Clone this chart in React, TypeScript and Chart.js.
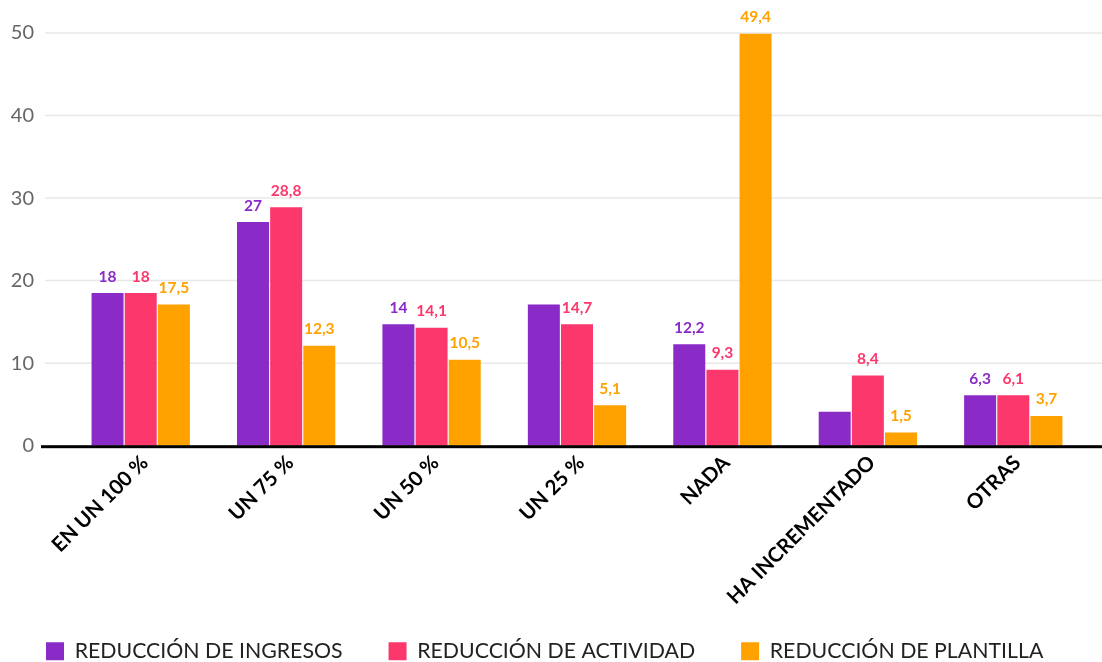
import React, { useEffect, useRef } from "react";
import { Chart, registerables } from "chart.js";

Chart.register(...registerables);

const categories = ["EN UN 100 %", "UN 75 %", "UN 50 %", "UN 25 %", "NADA", "HA INCREMENTADO", "OTRAS"];
const seriesNames = ["REDUCCIÓN DE INGRESOS", "REDUCCIÓN DE ACTIVIDAD", "REDUCCIÓN DE PLANTILLA"];
const ingresos = [18.5, 27.1, 14.7, 17.1, 12.3, 4.1, 6.1];
const actividad = [18.5, 28.9, 14.3, 14.7, 9.2, 8.5, 6.1];
const plantilla = [17.1, 12.1, 10.4, 4.9, 49.9, 1.6, 3.6];
const ingresosLabels = ["18", "27", "14", "", "12,2", "", "6,3"];
const actividadLabels = ["18", "28,8", "14,1", "14,7", "9,3", "8,4", "6,1"];
const plantillaLabels = ["17,5", "12,3", "10,5", "5,1", "49,4", "1,5", "3,7"];
const yTicks = [0, 10, 20, 30, 40, 50];
const colors = ["#8A2BC7", "#FB376B", "#FFA200"];

const valueLabels = [ingresosLabels, actividadLabels, plantillaLabels];

const customPlugin = {
  id: "customDecor",
  afterLayout(chart: any) {
    // let the rotated category labels extend below the axis box (not clipped)
    const x = chart.scales.x;
    if (x) x.bottom = chart.height;
  },
  beforeDatasetsDraw(chart: any) {
    const { ctx, chartArea, scales } = chart;
    const y = scales.y;
    ctx.save();
    ctx.strokeStyle = "#e8e8e8";
    ctx.lineWidth = 1.5;
    yTicks.forEach((v) => {
      if (v === 0) return;
      const py = y.getPixelForValue(v);
      ctx.beginPath();
      ctx.moveTo(chartArea.left - 23, py);
      ctx.lineTo(chart.width, py);
      ctx.stroke();
    });
    ctx.restore();
  },
  afterDatasetsDraw(chart: any) {
    const { ctx, chartArea, scales } = chart;
    const y = scales.y;
    ctx.save();
    const y0 = y.getPixelForValue(0);
    ctx.fillStyle = "#000";
    ctx.fillRect(chartArea.left - 27, y0 - 0.5, chart.width - (chartArea.left - 27), 3);
    ctx.font = "bold 15.5px Lato";
    ctx.textAlign = "center";
    ctx.textBaseline = "alphabetic";
    chart.data.datasets.forEach((ds: any, i: number) => {
      const meta = chart.getDatasetMeta(i);
      ctx.fillStyle = colors[i];
      meta.data.forEach((el: any, j: number) => {
        const t = valueLabels[i][j];
        if (!t) return;
        ctx.fillText(t, el.x, el.y - 11.5);
      });
    });
    ctx.restore();
  },
};

export default function App() {
  const ref = useRef<HTMLCanvasElement>(null);
  useEffect(() => {
    if (!ref.current) return;
    const chart = new Chart(ref.current, {
      type: "bar",
      data: {
        labels: categories,
        datasets: [ingresos, actividad, plantilla].map((d, i) => ({
          label: seriesNames[i],
          data: d,
          backgroundColor: colors[i],
          borderWidth: 0,
          categoryPercentage: 0.684,
          barPercentage: 0.965,
          yAxisID: "y",
        })),
      },
      options: {
        animation: false,
        responsive: true,
        maintainAspectRatio: false,
        layout: { padding: { top: 33, right: 0, left: 0, bottom: -10 } },
        plugins: {
          tooltip: { enabled: false },
          legend: {
            position: "bottom",
            align: "start",
            labels: {
              boxWidth: 18,
              boxHeight: 18,
              padding: 46,
              color: "#222",
              font: { family: "Lato", size: 21.3 },
            },
          },
        },
        scales: {
          x: {
            ticks: {
              color: "#000",
              font: { family: "Lato", size: 20.5, weight: "bold" },
              maxRotation: 45,
              minRotation: 45,
              padding: 5,
              labelOffset: 4,
              autoSkip: false,
            },
            grid: { display: false, drawTicks: false },
            border: { display: false },
            afterFit(scale: any) {
              scale.height = 149;
            },
          },
          y: {
            min: 0,
            max: 50,
            ticks: {
              stepSize: 10,
              color: "#666",
              font: { family: "Lato", size: 20 },
              padding: 34,
            },
            grid: { display: false, drawTicks: false },
            border: { display: false },
            afterFit(scale: any) {
              scale.width = 68;
              scale.paddingTop = 0;
              scale.paddingBottom = 0;
            },
          },
          yRight: {
            type: "linear",
            position: "right",
            display: true,
            ticks: { display: false },
            grid: { display: false, drawTicks: false },
            border: { display: false },
            afterFit(scale: any) {
              scale.width = 16;
              scale.paddingTop = 0;
              scale.paddingBottom = 0;
            },
          },
        },
      },
      plugins: [customPlugin],
    });
    return () => chart.destroy();
  }, []);
  return (
    <div style={{ position: "fixed", left: 0, top: 0, width: 1102, height: 662, background: "#fff" }}>
      <canvas ref={ref} />
    </div>
  );
}
